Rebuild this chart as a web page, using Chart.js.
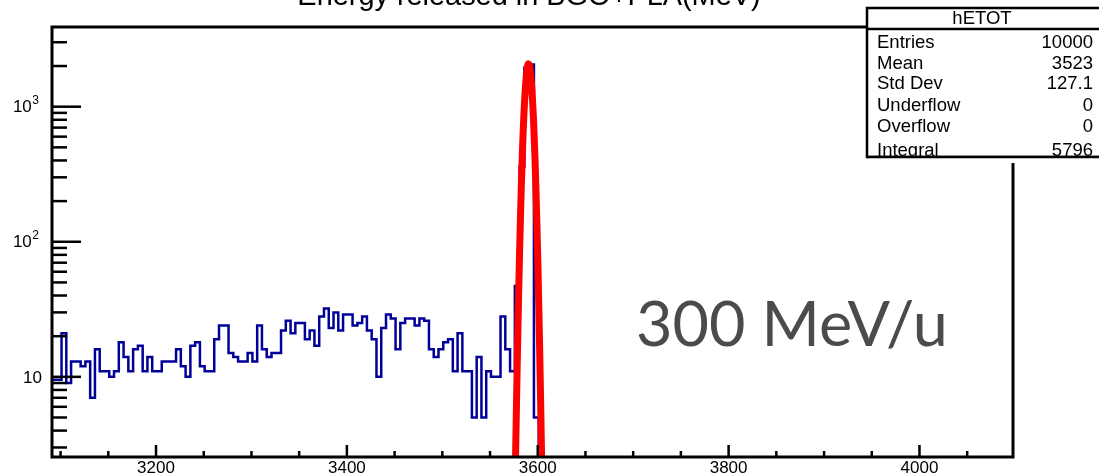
<!DOCTYPE html>
<html>
<head>
<meta charset="utf-8">
<title>hETOT</title>
<script src="https://cdn.jsdelivr.net/npm/chart.js@4.4.1/dist/chart.umd.min.js"></script>
<style>
    html, body { margin: 0; padding: 0; background: #fff; }
    #wrap { width: 1099px; height: 476px; position: relative; overflow: hidden; }
</style>
</head>
<body>
<div id="wrap"><canvas id="hEtot" width="1099" height="476"></canvas></div>
<script>
// hETOT histogram, 5 MeV bins, first bin edge at 3091 MeV
const binStart = 3091;
const binWidth = 5;
const binCounts = [
    9.5, 9.5, 21, 9, 13, 13, 12, 13, 7, 16,
    11, 11, 10, 11, 18, 14, 11, 16, 17, 11,
    14, 11, 11, 13, 13, 13, 16, 12, 10, 17,
    18, 12, 11, 11, 19, 24, 24, 15, 14, 13,
    13, 15, 13, 24, 16, 14, 15, 15, 22, 26,
    21, 25, 25, 19, 22, 17, 28, 32, 23, 30,
    22, 29, 29, 24, 25, 28, 22, 19, 10, 23,
    29, 27, 16, 25, 27, 27, 24, 27, 26, 16,
    14, 16, 18, 19, 11, 21, 11, 11, 5, 14,
    5, 11, 10, 10, 28, 16, 11, 47, 359, 1950,
    2050, 5
];

// gaussian fit (red)
const fitX = [3574, 3576, 3578, 3580, 3582, 3584, 3586, 3588, 3589, 3590, 3591, 3592, 3594, 3596, 3598, 3600, 3602, 3604, 3606];
const fitY = [0.13, 1.2, 8.1, 42, 163, 474, 1034, 1690, 1938, 2068, 2053, 1896, 1303, 671, 258, 75, 16, 2.6, 0.32];

// axes
const xMin = 3091, xMax = 4098;
const yMin = 2.55, yMax = 3890;
const xMajorTicks = [3200, 3400, 3600, 3800, 4000];
const xMinorStep = 50;
const yDecades = [1, 10, 100, 1000];

// texts
const titleText = 'Energy released in BGO+PLA(MeV)';
const statsName = 'hETOT';
const statsLabels = ['Entries', 'Mean', 'Std Dev', 'Underflow', 'Overflow', 'Integral'];
const statsValues = ['10000', '3523', '127.1', '0', '0', '5796'];
const energyNote = '300 MeV/u';

const FONT = '"Liberation Sans", Arial, sans-serif';

function histPoints() {
    const pts = binCounts.map((c, i) => ({ x: binStart + i * binWidth, y: c }));
    // closing edge: drop to the empty bins after the peak
    pts.push({ x: binStart + binCounts.length * binWidth, y: 1 });
    pts.push({ x: xMax, y: 1 });
    return pts;
}

function fitPoints() {
    return fitX.map((v, i) => ({ x: v, y: fitY[i] }));
}

function line(ctx, x1, y1, x2, y2) {
    ctx.beginPath();
    ctx.moveTo(x1, y1);
    ctx.lineTo(x2, y2);
    ctx.stroke();
}

// frame, inward ticks, labels and the stats box, ROOT style
const rootFrame = {
    id: 'rootFrame',
    afterDatasetsDraw(chart) {
        const { ctx, chartArea: a, scales: { x, y } } = chart;
        ctx.save();
        ctx.strokeStyle = '#000';
        ctx.fillStyle = '#000';

        // x ticks
        ctx.lineWidth = 2.5;
        for (let v = Math.ceil(xMin / xMinorStep) * xMinorStep; v <= xMax; v += xMinorStep) {
            const px = x.getPixelForValue(v);
            const len = xMajorTicks.includes(v) ? 12 : 6;
            line(ctx, px, a.bottom, px, a.bottom - len);
        }
        // y ticks
        yDecades.forEach(d => {
            for (let m = 1; m <= 9; m++) {
                const v = m * d;
                if (v < yMin || v > yMax) continue;
                const py = y.getPixelForValue(v);
                line(ctx, a.left, py, a.left + (m === 1 ? 29 : 15), py);
            }
        });

        // frame
        ctx.lineWidth = 3;
        ctx.strokeRect(a.left, a.top, a.right - a.left, a.bottom - a.top);

        // x labels
        ctx.font = '17px ' + FONT;
        ctx.textAlign = 'center';
        ctx.textBaseline = 'middle';
        xMajorTicks.forEach(v => {
            ctx.fillText(String(v), x.getPixelForValue(v), 468);
        });

        // y labels: 10, 10^2, 10^3
        yDecades.forEach(d => {
            if (d < yMin || d > yMax) return;
            const py = y.getPixelForValue(d);
            const exp = Math.round(Math.log10(d));
            ctx.textAlign = 'right';
            ctx.textBaseline = 'middle';
            if (exp === 1) {
                ctx.font = '17px ' + FONT;
                ctx.fillText('10', 42, py + 1);
            } else {
                ctx.font = '12px ' + FONT;
                const sup = String(exp);
                ctx.fillText(sup, 39, py - 6);
                const w = ctx.measureText(sup).width;
                ctx.font = '17px ' + FONT;
                ctx.fillText('10', 38.5 - w, py + 1);
            }
        });

        // title, cut by the top of the pad
        ctx.font = '24px ' + FONT;
        const tw = ctx.measureText(titleText).width;
        const ts = 24 * 464 / tw;
        ctx.font = ts.toFixed(1) + 'px ' + FONT;
        ctx.textAlign = 'center';
        ctx.textBaseline = 'alphabetic';
        ctx.fillText(titleText, 529, 5);

        // beam energy note
        ctx.fillStyle = '#4d4b49';
        ctx.font = '56px Lato, "Noto Sans", sans-serif';
        const nw = ctx.measureText(energyNote).width;
        const ns = 56 * 312 / nw;
        ctx.font = ns.toFixed(1) + 'px Lato, "Noto Sans", sans-serif';
        ctx.textAlign = 'left';
        ctx.fillText(energyNote, 636, 346);

        // stats box
        const bx = 867, by = 8, bw = 250, bh = 149;
        ctx.fillStyle = '#fff';
        ctx.fillRect(bx, by, bw, bh);
        ctx.lineWidth = 2.5;
        ctx.strokeRect(bx, by, bw, bh);
        line(ctx, bx, 29, bx + bw, 29);
        ctx.fillStyle = '#000';
        ctx.font = '18.5px ' + FONT;
        ctx.textAlign = 'center';
        ctx.textBaseline = 'middle';
        ctx.fillText(statsName, 982, 19);
        const rowY = [43, 64, 84, 106, 127, 151];
        statsLabels.forEach((lab, i) => {
            ctx.textAlign = 'left';
            ctx.fillText(lab, 877, rowY[i]);
            ctx.textAlign = 'right';
            ctx.fillText(statsValues[i], 1093, rowY[i]);
        });
        // the box bottom edge cuts the last row
        ctx.fillStyle = '#fff';
        ctx.fillRect(bx + 2, by + bh, bw, 6);
        ctx.lineWidth = 2.5;
        line(ctx, bx, by + bh, bx + bw, by + bh);

        ctx.restore();
    }
};

const chart = new Chart(document.getElementById('hEtot'), {
    type: 'line',
    data: {
        datasets: [
            {
                label: 'hETOT',
                data: histPoints(),
                stepped: 'before',
                borderColor: '#000099',
                borderWidth: 2.5,
                pointRadius: 0,
                fill: false,
                clip: 0,
                order: 2
            },
            {
                label: 'fit',
                data: fitPoints(),
                borderColor: '#ff0000',
                borderWidth: 7,
                tension: 0.4,
                pointRadius: 0,
                fill: false,
                clip: 0,
                order: 1
            }
        ]
    },
    options: {
        responsive: false,
        animation: false,
        devicePixelRatio: 1,
        layout: { padding: { left: 52, top: 27, right: 86, bottom: 19 } },
        plugins: {
            legend: { display: false },
            tooltip: { enabled: false },
            title: { display: false }
        },
        scales: {
            x: { type: 'linear', min: xMin, max: xMax, display: false },
            y: { type: 'logarithmic', min: yMin, max: yMax, display: false }
        }
    },
    plugins: [rootFrame]
});
</script>
</body>
</html>
